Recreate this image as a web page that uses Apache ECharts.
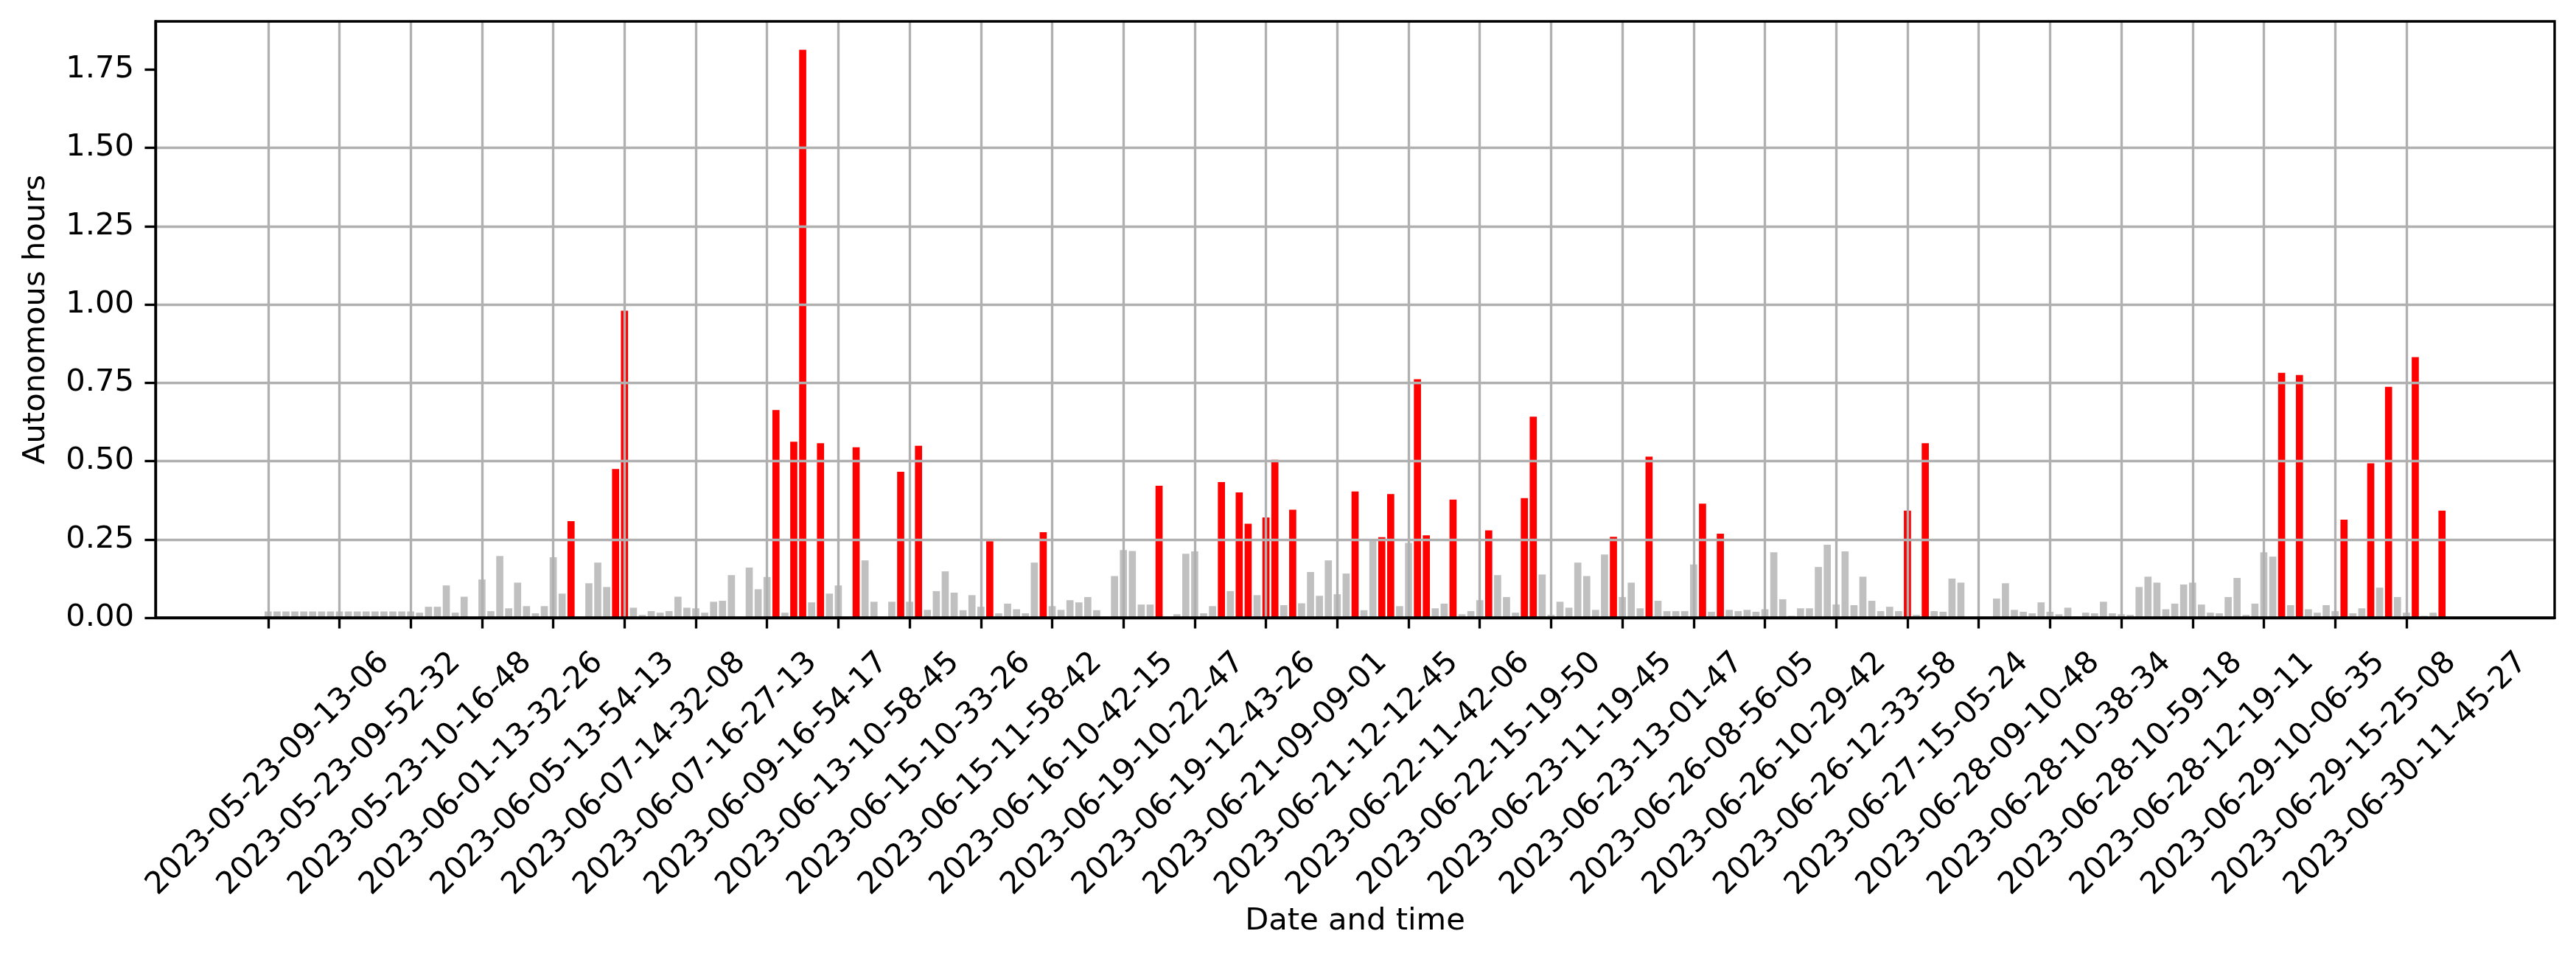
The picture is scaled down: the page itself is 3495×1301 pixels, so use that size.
<!DOCTYPE html>
<html style="height: 100%">

<head>
	<meta charset="utf-8">
</head>

<body style="height: 100%; margin: 0; background: #fff">
	<div id="container" style="width: 3495px; height: 1301px;"></div>
	<script type="text/javascript" src="https://cdn.jsdelivr.net/npm/echarts@6/dist/echarts.min.js"></script>
	<script type="text/javascript">
		// labels shown under every 8th bar
		const tickStep = 8;
		const tickLabels = [
			'2023-05-23-09-13-06', '2023-05-23-09-52-32', '2023-05-23-10-16-48', '2023-06-01-13-32-26',
			'2023-06-05-13-54-13', '2023-06-07-14-32-08', '2023-06-07-16-27-13', '2023-06-09-16-54-17',
			'2023-06-13-10-58-45', '2023-06-15-10-33-26', '2023-06-15-11-58-42', '2023-06-16-10-42-15',
			'2023-06-19-10-22-47', '2023-06-19-12-43-26', '2023-06-21-09-09-01', '2023-06-21-12-12-45',
			'2023-06-22-11-42-06', '2023-06-22-15-19-50', '2023-06-23-11-19-45', '2023-06-23-13-01-47',
			'2023-06-26-08-56-05', '2023-06-26-10-29-42', '2023-06-26-12-33-58', '2023-06-27-15-05-24',
			'2023-06-28-09-10-48', '2023-06-28-10-38-34', '2023-06-28-10-59-18', '2023-06-28-12-19-11',
			'2023-06-29-10-06-35', '2023-06-29-15-25-08', '2023-06-30-11-45-27'
		];

		// autonomous hours per run (one bar each)
		const hours = [
			0.02, 0.02, 0.02, 0.02, 0.02, 0.02, 0.02, 0.02, 0.02, 0.02,
			0.02, 0.02, 0.02, 0.02, 0.02, 0.02, 0.02, 0.016, 0.035, 0.035,
			0.103, 0.016, 0.067, 0, 0.122, 0.021, 0.197, 0.03, 0.112, 0.037,
			0.014, 0.037, 0.193, 0.077, 0.308, 0, 0.11, 0.176, 0.098, 0.475,
			0.98, 0.032, 0.009, 0.021, 0.016, 0.021, 0.067, 0.032, 0.03, 0.016,
			0.051, 0.054, 0.136, 0, 0.16, 0.091, 0.13, 0.663, 0.016, 0.562,
			1.813, 0.049, 0.557, 0.077, 0.103, 0, 0.544, 0.183, 0.051, 0,
			0.051, 0.466, 0.051, 0.549, 0.025, 0.085, 0.148, 0.08, 0.024, 0.072,
			0.035, 0.244, 0.014, 0.045, 0.027, 0.014, 0.176, 0.273, 0.037, 0.025,
			0.056, 0.049, 0.066, 0.024, 0, 0.133, 0.216, 0.213, 0.042, 0.042,
			0.421, 0, 0.011, 0.204, 0.212, 0.014, 0.037, 0.433, 0.085, 0.4,
			0.3, 0.072, 0.32, 0.504, 0.04, 0.345, 0.046, 0.146, 0.07, 0.183,
			0.075, 0.141, 0.403, 0.024, 0.247, 0.257, 0.395, 0.037, 0.239, 0.761,
			0.263, 0.03, 0.045, 0.377, 0.011, 0.021, 0.056, 0.279, 0.136, 0.066,
			0.016, 0.382, 0.642, 0.138, 0.009, 0.051, 0.032, 0.176, 0.133, 0.025,
			0.202, 0.258, 0.066, 0.112, 0.03, 0.514, 0.054, 0.021, 0.021, 0.021,
			0.17, 0.364, 0.019, 0.268, 0.025, 0.021, 0.025, 0.019, 0.027, 0.209,
			0.059, 0.006, 0.03, 0.03, 0.162, 0.233, 0.042, 0.212, 0.04, 0.131,
			0.054, 0.021, 0.035, 0.021, 0.342, 0.009, 0.557, 0.021, 0.019, 0.125,
			0.112, 0, 0, 0, 0.061, 0.11, 0.025, 0.019, 0.014, 0.049,
			0.019, 0.011, 0.032, 0.004, 0.016, 0.014, 0.051, 0.014, 0.011, 0.009,
			0.098, 0.131, 0.112, 0.027, 0.045, 0.106, 0.112, 0.042, 0.016, 0.014,
			0.066, 0.127, 0.009, 0.045, 0.209, 0.195, 0.782, 0.04, 0.775, 0.027,
			0.016, 0.04, 0.021, 0.313, 0.014, 0.03, 0.493, 0.096, 0.737, 0.066,
			0.016, 0.832, 0.006, 0.016, 0.342
		];

		// indices of the bars drawn in red
		const redBars = [
			34, 39, 40, 57, 59, 60, 62, 66, 71, 73, 81, 87, 100, 107, 109, 110, 112, 113, 115, 122,
			125, 126, 129, 130, 133, 137, 141, 142, 151, 155, 161, 163, 184, 186, 226, 228, 233, 236, 238, 241, 244
		];

		const yTicks = [0, 0.25, 0.5, 0.75, 1.0, 1.25, 1.5, 1.75];

		const font = 'DejaVu Sans';
		const fontSize = 41.67;
		const lw = 3.33;

		let dom = document.getElementById("container");
		let myChart = echarts.init(dom, null, { renderer: 'canvas' });

		let xTicks = tickLabels.map(function (_, k) { return k * tickStep; });
		let barData = hours.map(function (v, i) {
			return {
				value: [i, v],
				itemStyle: { color: redBars.indexOf(i) >= 0 ? '#ff0000' : '#c0c0c0' }
			};
		});

		// matplotlib style margins: 5% of the data span on each side
		let span = (hours.length - 1) + 0.8;
		let xMin = -0.4 - span * 0.05;
		let xMax = hours.length - 1 + 0.4 + span * 0.05;
		let yMax = Math.max.apply(null, hours) * 1.05;

		let option = {
			animation: false,
			backgroundColor: '#fff',
			grid: {
				left: 211,
				right: 29,
				top: 29,
				bottom: 463,
				outerBoundsMode: 'none',
				show: true,
				z: 10,
				borderColor: '#000',
				borderWidth: lw,
				backgroundColor: 'transparent'
			},
			xAxis: {
				type: 'value',
				min: xMin,
				max: xMax,
				z: 6,
				name: 'Date and time',
				nameLocation: 'middle',
				nameGap: 384,
				nameTextStyle: { fontFamily: font, fontSize: fontSize, color: '#000' },
				axisLine: { show: true, onZero: false, lineStyle: { color: '#000', width: lw } },
				axisTick: { show: true, customValues: xTicks, length: 14.6, lineStyle: { color: '#000', width: lw } },
				axisLabel: {
					customValues: xTicks,
					rotate: 45,
					align: 'center',
					verticalAlign: 'middle',
					margin: 212,
					fontFamily: font,
					fontSize: fontSize,
					color: '#000',
					formatter: function (v) { return tickLabels[Math.round(v / tickStep)]; }
				},
				splitLine: { show: true, customValues: xTicks, lineStyle: { color: '#b0b0b0', width: lw } }
			},
			yAxis: {
				type: 'value',
				min: 0,
				max: yMax,
				interval: 0.25,
				z: 5,
				name: 'Autonomous hours',
				nameLocation: 'middle',
				nameRotate: 90,
				nameGap: 141,
				nameTextStyle: { fontFamily: font, fontSize: fontSize, color: '#000' },
				axisLine: { show: true, onZero: false, lineStyle: { color: '#000', width: lw } },
				axisTick: { show: true, customValues: yTicks, length: 14.6, lineStyle: { color: '#000', width: lw } },
				axisLabel: {
					customValues: yTicks,
					margin: 29,
					fontFamily: font,
					fontSize: fontSize,
					color: '#000',
					formatter: function (v) { return v.toFixed(2); }
				},
				splitLine: { show: true, showMinLine: false, showMaxLine: false, lineStyle: { color: '#b0b0b0', width: lw } }
			},
			series: [
				{
					type: 'bar',
					data: barData,
					barWidth: 9.67,
					z: 2
				}
			]
		};

		myChart.setOption(option);
	</script>
</body>
</html>
